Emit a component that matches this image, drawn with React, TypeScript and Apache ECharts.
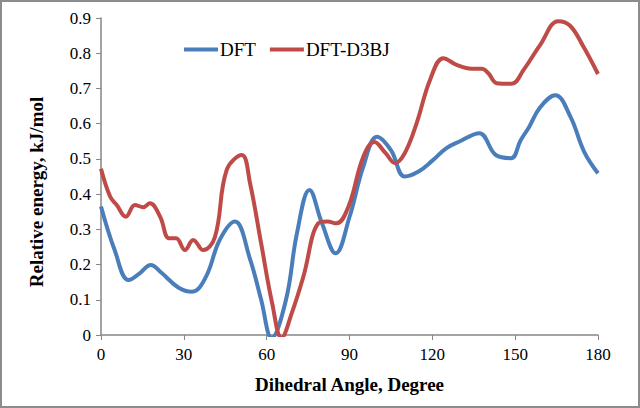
import React, { useEffect, useRef } from "react";
import * as echarts from "echarts";

const dftAngles = [0, 5, 10, 14, 18, 22, 28, 33, 38, 43, 48.5, 54, 58, 61.8, 67, 71, 75.5, 80, 85, 90, 95, 100, 105, 110, 115, 120, 125, 130, 137, 143, 148.5, 152, 155, 159, 164.5, 170, 175, 180];
const dftValues = [0.365, 0.24, 0.156, 0.175, 0.199, 0.176, 0.135, 0.123, 0.165, 0.27, 0.322, 0.215, 0.1, -0.008, 0.1, 0.29, 0.412, 0.318, 0.232, 0.335, 0.478, 0.563, 0.525, 0.45, 0.464, 0.495, 0.53, 0.55, 0.573, 0.511, 0.502, 0.553, 0.59, 0.646, 0.681, 0.62, 0.52, 0.459];

const d3bjAngles = [0, 3.3, 5.7, 9, 12.3, 15.3, 17.7, 21.4, 24.6, 27.2, 30.4, 33.4, 37, 41.3, 45.5, 51, 54, 58, 62, 65.4, 69, 73.3, 78.7, 82, 85.3, 89.6, 95, 99, 103, 106.5, 110, 114.3, 119.2, 124, 128.8, 134.3, 137.9, 140.3, 143.3, 148.7, 153, 159, 165.6, 169.9, 174.7, 180];
const d3bjValues = [0.472, 0.393, 0.369, 0.336, 0.369, 0.363, 0.374, 0.336, 0.275, 0.275, 0.241, 0.27, 0.241, 0.279, 0.468, 0.511, 0.43, 0.26, 0.09, -0.008, 0.06, 0.166, 0.317, 0.322, 0.317, 0.364, 0.506, 0.548, 0.517, 0.488, 0.516, 0.601, 0.725, 0.786, 0.767, 0.756, 0.756, 0.743, 0.715, 0.713, 0.752, 0.823, 0.891, 0.878, 0.819, 0.741];

const seriesNames = ["DFT", "DFT-D3BJ"];
const xTitle = "Dihedral Angle, Degree";
const yTitle = "Relative energy, kJ/mol";

const zip = (xs: number[], ys: number[]) => xs.map((x, i) => [x, ys[i]]);

export default function App() {
  const ref = useRef<HTMLDivElement>(null);
  useEffect(() => {
    if (!ref.current) return;
    const chart = echarts.init(ref.current, undefined, { renderer: "svg" });
    const font = "Liberation Serif";
    const axisColor = "#868686";
    chart.setOption({
      animation: false,
      textStyle: { fontFamily: font },
      grid: { left: 101, right: 42, top: 18, bottom: 73 },
      legend: {
        left: 179,
        top: 35,
        icon: "rect",
        itemWidth: 34,
        itemHeight: 4,
        itemGap: 14,
        textStyle: { fontFamily: font, fontSize: 19, color: "#000", padding: [0, 0, 0, -3] },
        data: seriesNames,
      },
      graphic: [
        {
          type: "text",
          x: 36,
          y: 192,
          rotation: Math.PI / 2,
          style: {
            text: yTitle,
            fontFamily: font,
            fontSize: 19,
            fontWeight: "bold",
            fill: "#000",
            textAlign: "center",
            textVerticalAlign: "middle",
          },
        },
      ],
      xAxis: {
        type: "value",
        min: 0,
        max: 180,
        interval: 30,
        name: xTitle,
        nameLocation: "middle",
        nameGap: 40,
        nameTextStyle: { fontFamily: font, fontSize: 19, fontWeight: "bold", color: "#000" },
        axisLine: { lineStyle: { color: axisColor, width: 1.5 } },
        axisTick: { show: true, length: 5, lineStyle: { color: axisColor } },
        axisLabel: { fontFamily: font, fontSize: 17, color: "#000", margin: 11 },
        splitLine: { show: false },
      },
      yAxis: {
        type: "value",
        min: 0,
        max: 0.9,
        interval: 0.1,
        axisLine: { show: true, lineStyle: { color: axisColor, width: 1.5 } },
        axisTick: { show: true, length: 5, lineStyle: { color: axisColor } },
        axisLabel: {
          fontFamily: font,
          fontSize: 17,
          color: "#000",
          margin: 10,
          formatter: (v: number) => (Math.round(v * 10) / 10).toString(),
        },
        splitLine: { show: false },
      },
      series: [
        {
          name: seriesNames[0],
          type: "line",
          smooth: 0.4,
          symbol: "none",
          data: zip(dftAngles, dftValues),
          lineStyle: { color: "#4a7ebb", width: 4 },
          itemStyle: { color: "#4a7ebb" },
        },
        {
          name: seriesNames[1],
          type: "line",
          smooth: 0.4,
          symbol: "none",
          data: zip(d3bjAngles, d3bjValues),
          lineStyle: { color: "#be4b48", width: 4 },
          itemStyle: { color: "#be4b48" },
        },
      ],
    });
    return () => chart.dispose();
  }, []);
  return (
    <div
      style={{
        position: "fixed",
        left: 0,
        top: 0,
        width: 640,
        height: 408,
        boxSizing: "border-box",
        border: "2px solid #8c8c8c",
        background: "#fff",
        overflow: "hidden",
      }}
    >
      <div ref={ref} style={{ position: "absolute", left: -2, top: -2, width: 640, height: 408 }} />
    </div>
  );
}
